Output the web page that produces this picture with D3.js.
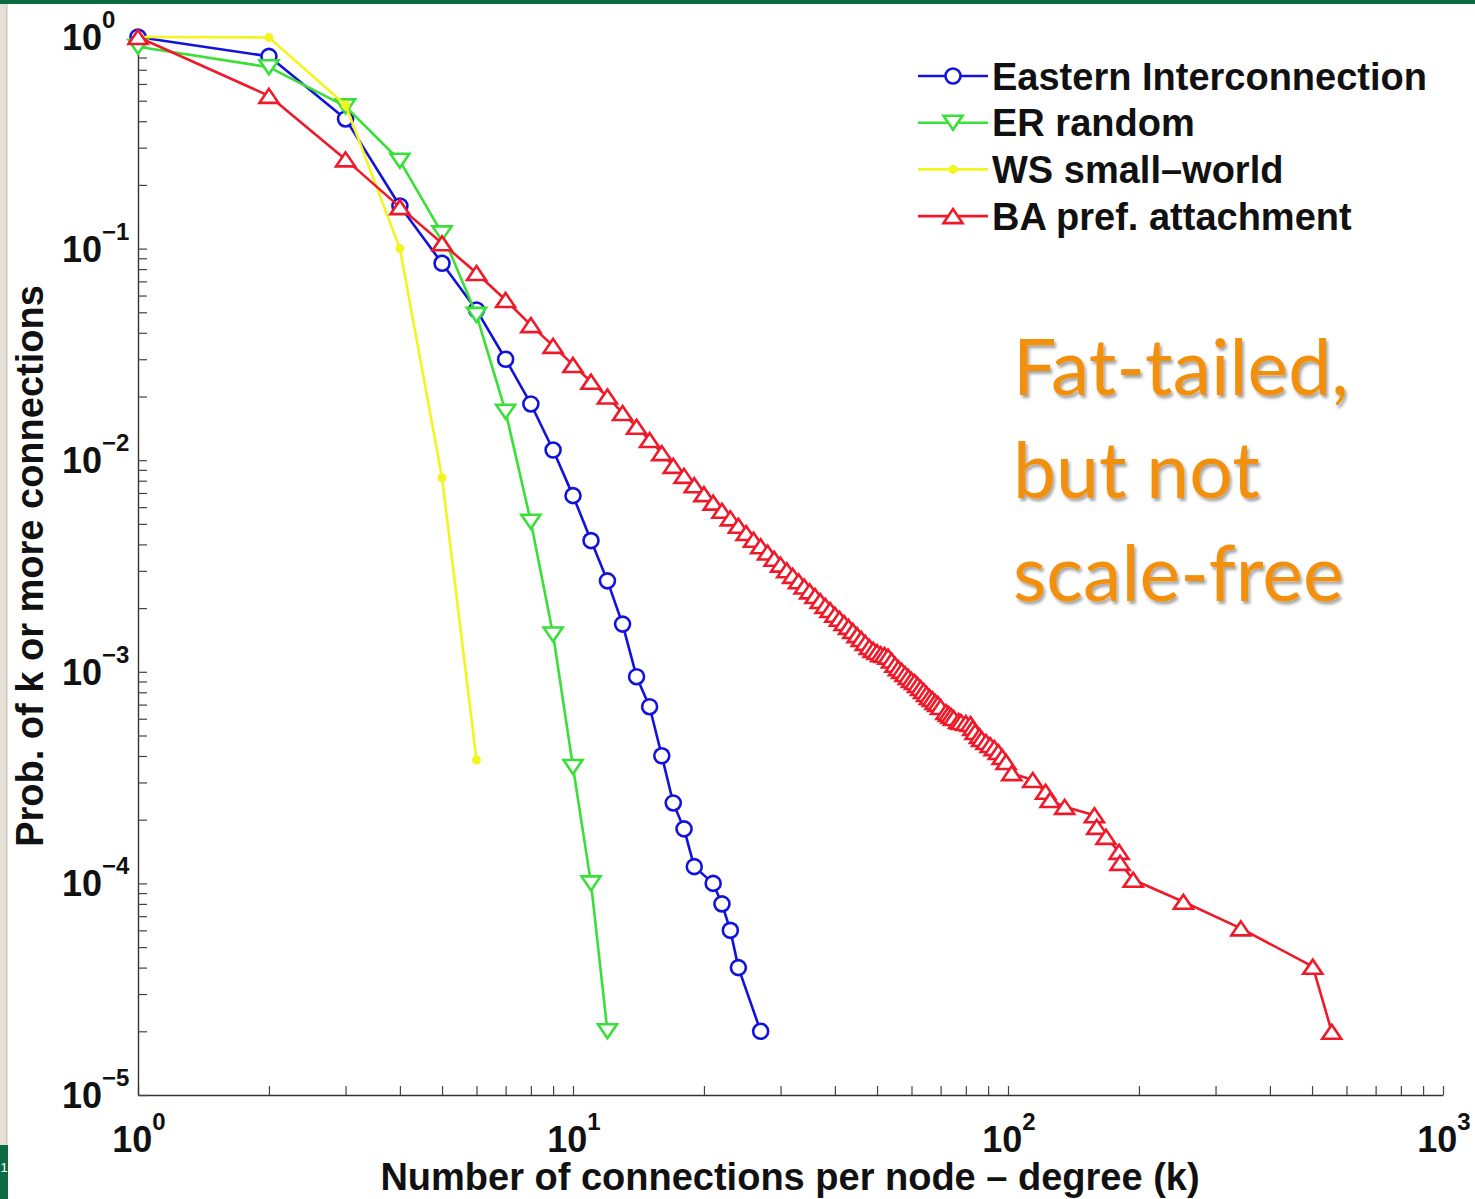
<!DOCTYPE html>
<html>
<head>
<meta charset="utf-8">
<script src="https://cdn.jsdelivr.net/npm/d3@7"></script>
<style>
  html, body { margin: 0; padding: 0; background: #fff; }
  svg { display: block; }
</style>
</head>
<body>
<svg id="chart" width="1475" height="1199"></svg>
<script>
// Probability of a node having k or more connections, per network model.

// Eastern Interconnection (power grid)
const easternDegree = [1, 2, 3, 4, 5, 6, 7, 8, 9, 10, 11, 12, 13, 14, 15, 16, 17, 18, 19, 21, 22, 23, 24, 27];
const easternProb = [1, 0.81, 0.41, 0.159, 0.0852, 0.0513, 0.0300, 0.01844, 0.01117, 0.0068, 0.00417,
  0.00269, 0.00168, 0.000948, 0.000684, 0.000401, 0.00024, 0.000181, 0.00012, 0.0001, 0.00008,
  0.00006, 0.00004, 0.00002];

// Erdos-Renyi random graph
const erDegree = [1, 2, 3, 4, 5, 6, 7, 8, 9, 10, 11, 12];
const erProb = [0.90, 0.72, 0.47, 0.26, 0.118, 0.0486, 0.01695, 0.00512, 0.0015, 0.000355, 0.0001, 0.00002];

// Watts-Strogatz small world
const wsDegree = [1, 2, 3, 4, 5, 6];
const wsProb = [1, 0.995, 0.477, 0.1, 0.00826, 0.000383];

// Barabasi-Albert preferential attachment
const baDegree = [1, 2, 3, 4, 5, 6, 7, 8, 9, 10, 11, 12, 13, 14, 15, 16, 17, 18, 19, 20,
  21, 22, 23, 24, 25, 26, 27, 28, 29, 30, 31, 32, 33, 34, 35, 36, 37, 38, 39, 40,
  41, 42, 43, 44, 45, 46, 47, 48, 49, 50, 51, 52, 53, 54, 55, 56, 57, 58, 59, 60,
  61, 62, 63, 64, 65, 66, 67, 68, 69, 70, 72, 73, 74, 75, 77, 78, 80, 82, 83, 84,
  86, 87, 89, 91, 93, 95, 97, 99, 102, 114, 122, 125, 135, 158, 160, 168, 180, 181,
  194, 253, 343, 502, 555];
const baProb = [1, 0.527, 0.264, 0.157, 0.106, 0.0767, 0.0572, 0.0435, 0.0347, 0.0282,
  0.0235, 0.0200, 0.0167, 0.0144, 0.01246, 0.0108, 0.0094, 0.00843, 0.00762, 0.00691,
  0.0063, 0.00577, 0.00531, 0.0049, 0.00453, 0.00421, 0.00392, 0.00366, 0.00342, 0.00321,
  0.00302, 0.00284, 0.00268, 0.00253, 0.0024, 0.00228, 0.00216, 0.00205, 0.00196, 0.00186,
  0.00178, 0.0017, 0.00163, 0.00156, 0.00149, 0.00143, 0.00137, 0.00131, 0.00127, 0.00124,
  0.00121, 0.0012, 0.00118, 0.00113, 0.00108, 0.00104, 0.00101, 0.000976, 0.000945, 0.000915,
  0.000895, 0.000866, 0.000838, 0.000811, 0.000785, 0.00076, 0.000744, 0.00072, 0.000705, 0.000682,
  0.000646, 0.000632, 0.000618, 0.000605, 0.000585, 0.000579, 0.000573, 0.000567, 0.000543, 0.000519,
  0.000497, 0.000481, 0.000466, 0.000451, 0.000436, 0.000418, 0.000396, 0.000375, 0.000332, 0.000308,
  0.000271, 0.000248, 0.00023, 0.00021, 0.000185, 0.000166, 0.000141, 0.000125,
  0.000104, 0.0000819, 0.0000613, 0.0000404, 0.0000199];

const seriesNames = ["Eastern Interconnection", "ER random", "WS small\u2013world", "BA pref. attachment"];
const xTickExponents = [0, 1, 2, 3];
const yTickExponents = [0, -1, -2, -3, -4, -5];
const xAxisTitle = "Number of connections per node \u2013 degree (k)";
const yAxisTitle = "Prob. of k or more connections";
const noteLines = ["Fat-tailed,", "but not", "scale-free"];
const slideNumber = "1";

const FONT = "'Liberation Sans', Arial, Helvetica, sans-serif";

const svg = d3.select("#chart");

// ---- slide frame ----
svg.append("rect").attr("x", 0).attr("y", 0).attr("width", 1475).attr("height", 1199).attr("fill", "#ffffff");
svg.append("rect").attr("x", 0).attr("y", 0).attr("width", 1475).attr("height", 4).attr("fill", "#0b6a3f");
svg.append("rect").attr("x", 0).attr("y", 4).attr("width", 7).attr("height", 1141).attr("fill", "#e5e1d7");
svg.append("rect").attr("x", 6).attr("y", 4).attr("width", 1.5).attr("height", 1141).attr("fill", "#cfcac0");
svg.append("rect").attr("x", 0).attr("y", 1145).attr("width", 8).attr("height", 54).attr("fill", "#0b6a3f");
svg.append("text").attr("x", 0.5).attr("y", 1172).attr("font-family", FONT).attr("font-size", 13)
  .attr("fill", "#ffffff").text(slideNumber);

// ---- scales ----
const x = d3.scaleLog().domain([1, 1000]).range([138, 1443]);
const y = d3.scaleLog().domain([1e-5, 1]).range([1095, 37]);

const xTicks = [];
for (let e = 0; e < 3; e++) for (let m = 1; m <= 9; m++) xTicks.push(m * Math.pow(10, e));
xTicks.push(1000);
const yTicks = [];
for (let e = -5; e < 0; e++) for (let m = 1; m <= 9; m++) yTicks.push(m * Math.pow(10, e));
yTicks.push(1);

const gx = svg.append("g").attr("transform", "translate(0,1095)")
  .call(d3.axisBottom(x).tickValues(xTicks).tickSizeInner(-9).tickSizeOuter(0).tickFormat(""));
const gy = svg.append("g").attr("transform", "translate(138,0)")
  .call(d3.axisLeft(y).tickValues(yTicks).tickSizeInner(-9).tickSizeOuter(0).tickFormat(""));
[gx, gy].forEach(g => {
  g.select(".domain").attr("stroke", "#333").attr("stroke-width", 1.4);
  g.selectAll(".tick line").attr("stroke", "#444").attr("stroke-width", 1.2);
});

// tick labels as 10 with superscript exponents
function expLabel(sel, e) {
  sel.append("tspan").text("10");
  sel.append("tspan").attr("dy", -22).attr("font-size", 24)
    .text(e < 0 ? "\u2212" + (-e) : String(e));
}
yTickExponents.forEach(e => {
  const t = svg.append("text").attr("x", 62).attr("y", y(Math.pow(10, e)) + 13)
    .attr("font-family", FONT).attr("font-weight", "bold").attr("font-size", 36).attr("fill", "#111");
  expLabel(t, e);
});
xTickExponents.forEach(e => {
  const t = svg.append("text").attr("x", x(Math.pow(10, e)) + 1).attr("y", 1152)
    .attr("text-anchor", "middle")
    .attr("font-family", FONT).attr("font-weight", "bold").attr("font-size", 36).attr("fill", "#111");
  expLabel(t, e);
});

// axis titles
svg.append("text").attr("x", 790).attr("y", 1190).attr("text-anchor", "middle")
  .attr("font-family", FONT).attr("font-weight", "bold").attr("font-size", 38).attr("fill", "#111")
  .text(xAxisTitle);
svg.append("text").attr("transform", "translate(43,566) rotate(-90)").attr("text-anchor", "middle")
  .attr("font-family", FONT).attr("font-weight", "bold").attr("font-size", 38).attr("fill", "#111")
  .text(yAxisTitle);

// ---- markers ----
const markerShapes = {
  circle: g => g.append("circle").attr("r", 7.5),
  down: g => g.append("path").attr("d", "M0,7 L9.5,-7 L-9.5,-7 Z"),
  dot: g => g.append("circle").attr("r", 4.5),
  up: g => g.append("path").attr("d", "M0,-7 L9.5,7 L-9.5,7 Z")
};

const series = [
  { name: seriesNames[0], k: easternDegree, p: easternProb, color: "#1212dc", marker: "circle", filled: false },
  { name: seriesNames[1], k: erDegree, p: erProb, color: "#38e038", marker: "down", filled: false },
  { name: seriesNames[2], k: wsDegree, p: wsProb, color: "#f4f41e", marker: "dot", filled: true },
  { name: seriesNames[3], k: baDegree, p: baProb, color: "#ee1a2a", marker: "up", filled: false }
];

const line = d3.line().x(d => x(d[0])).y(d => y(d[1]));

function drawMarker(g, s) {
  markerShapes[s.marker](g)
    .attr("fill", s.filled ? s.color : "#ffffff")
    .attr("stroke", s.color)
    .attr("stroke-width", s.filled ? 0 : 2.6);
}

series.forEach(s => {
  const pts = s.k.map((k, i) => [k, s.p[i]]);
  const g = svg.append("g");
  g.append("path").datum(pts).attr("d", line).attr("fill", "none")
    .attr("stroke", s.color).attr("stroke-width", 2.6).attr("stroke-linejoin", "round");
  g.selectAll("g.mk").data(pts).enter().append("g").attr("class", "mk")
    .attr("transform", d => `translate(${x(d[0])},${y(d[1])})`)
    .each(function () { drawMarker(d3.select(this), s); });
});

// ---- legend ----
const legend = svg.append("g");
series.forEach((s, i) => {
  const ly = 76 + i * 46.7;
  legend.append("line").attr("x1", 918).attr("x2", 988).attr("y1", ly).attr("y2", ly)
    .attr("stroke", s.color).attr("stroke-width", 2.6);
  const mg = legend.append("g").attr("transform", `translate(953,${ly})`);
  drawMarker(mg, s);
  legend.append("text").attr("x", 992).attr("y", ly + 13.5)
    .attr("font-family", FONT).attr("font-weight", "bold").attr("font-size", 38).attr("fill", "#111")
    .text(s.name);
});

// ---- annotation ----
const defs = svg.append("defs");
const f = defs.append("filter").attr("id", "softShadow").attr("x", "-10%").attr("y", "-10%")
  .attr("width", "130%").attr("height", "140%");
f.append("feDropShadow").attr("dx", 2).attr("dy", 3).attr("stdDeviation", 1.8)
  .attr("flood-color", "#000").attr("flood-opacity", 0.35);

noteLines.forEach((t, i) => {
  svg.append("text").attr("x", 1013).attr("y", 395 + i * 103)
    .attr("font-family", "Lato, 'Open Sans', sans-serif").attr("font-size", 77)
    .attr("fill", "#f2900f").attr("filter", "url(#softShadow)")
    .text(t);
});
</script>
</body>
</html>
